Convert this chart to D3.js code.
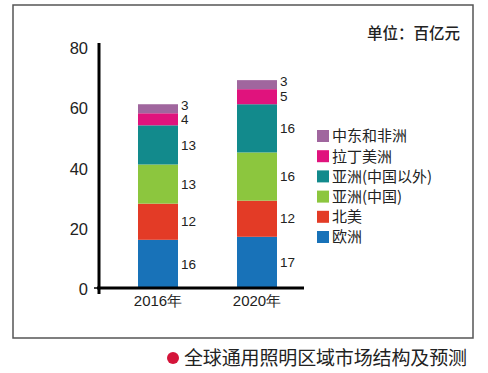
<!DOCTYPE html>
<html><head><meta charset="utf-8">
<script src="https://cdn.jsdelivr.net/npm/d3@7"></script>
<style>body{margin:0;background:#fff;}svg{display:block;}</style>
</head><body>
<svg id="c" width="488" height="373"></svg>
<script>
const years = ["2016年", "2020年"];
const regions = ["欧洲", "北美", "亚洲(中国)", "亚洲(中国以外)", "拉丁美洲", "中东和非洲"];
const europe = [16, 17];
const northAmerica = [12, 12];
const asiaChina = [13, 16];
const asiaOther = [13, 16];
const latinAmerica = [4, 5];
const meAfrica = [3, 3];
const yTicks = [0, 20, 40, 60, 80];
const colors = ["#1872b8", "#e33b26", "#8cc63e", "#128a8c", "#e0137d", "#a0669e"];
const unitText = "单位：百亿元";
const captionText = "全球通用照明区域市场结构及预测";

const seriesVals = [europe, northAmerica, asiaChina, asiaOther, latinAmerica, meAfrica];
const table = years.map((y, i) => {
  const o = {year: y};
  regions.forEach((r, k) => o[r] = seriesVals[k][i]);
  return o;
});
const stacked = d3.stack().keys(regions)(table);

const svg = d3.select("#c");
const font = "Liberation Sans, Arial, sans-serif";
const cjk = "'Noto Sans CJK SC', sans-serif";

// frame
svg.append("rect").attr("x", 13).attr("y", 5).attr("width", 460).attr("height", 333)
  .attr("fill", "none").attr("stroke", "#555").attr("stroke-width", 1.5);

const y = d3.scaleLinear().domain([0, 80]).range([288, 47]);
const x = d3.scaleBand().domain(years).range([88.5, 326.5]).paddingInner(0.596).paddingOuter(0.5);

// bars
const g = svg.append("g");
stacked.forEach((layer, k) => {
  g.selectAll(null).data(layer).enter().append("rect")
    .attr("x", d => x(d.data.year))
    .attr("y", d => y(d[1]))
    .attr("width", x.bandwidth())
    .attr("height", d => y(d[0]) - y(d[1]))
    .attr("fill", colors[k]);
  g.selectAll(null).data(layer).enter().append("text")
    .attr("x", d => x(d.data.year) + x.bandwidth() + 3)
    .attr("y", d => (y(d[0]) + y(d[1])) / 2)
    .attr("dy", d => (d[1] - d[0]) <= 3 ? "0.1em" : "0.35em")
    .attr("font-family", font).attr("font-size", 13.5).attr("fill", "#222")
    .text(d => d[1] - d[0]);
});

// y axis
const yAxis = svg.append("g").attr("transform", "translate(99,0)")
  .call(d3.axisLeft(y).tickValues(yTicks).tickSize(0).tickPadding(11));
yAxis.select(".domain").remove();
yAxis.selectAll("text").attr("font-family", font).attr("font-size", 16.5).attr("fill", "#222").attr("dy", "0.4em");
svg.append("line").attr("x1", 99).attr("x2", 99).attr("y1", y(80) - 4).attr("y2", 294)
  .attr("stroke", "#000").attr("stroke-width", 3);
svg.append("line").attr("x1", 94).attr("x2", 99).attr("y1", y(0)).attr("y2", y(0))
  .attr("stroke", "#000").attr("stroke-width", 1.5);

// x axis
const xAxis = svg.append("g").attr("transform", `translate(0,${y(0)})`)
  .call(d3.axisBottom(x).tickSize(0).tickPadding(7));
xAxis.select(".domain").remove();
xAxis.selectAll("text").attr("font-family", font).attr("font-size", 15).attr("fill", "#222")
  .attr("dy", "0.75em");
svg.append("line").attr("x1", 97).attr("x2", 304).attr("y1", y(0)).attr("y2", y(0))
  .attr("stroke", "#000").attr("stroke-width", 3);

// legend
const legendOrder = regions.slice().reverse();
const lg = svg.append("g");
legendOrder.forEach((r, i) => {
  const yy = 136 + i * 20.2;
  lg.append("rect").attr("x", 317).attr("y", yy - 6).attr("width", 12).attr("height", 12)
    .attr("fill", colors[regions.indexOf(r)]);
  lg.append("text").attr("x", 332).attr("y", yy).attr("dy", "0.36em")
    .attr("font-family", cjk).attr("font-size", 15).attr("fill", "#222").text(r);
});

// unit
svg.append("text").attr("x", 460).attr("y", 33).attr("dy", "0.36em").attr("text-anchor", "end")
  .attr("font-family", cjk).attr("font-size", 15.5).attr("font-weight", 500).attr("fill", "#222").text(unitText);

// caption
svg.append("circle").attr("cx", 173).attr("cy", 358).attr("r", 6).attr("fill", "#d4143a");
svg.append("text").attr("x", 184).attr("y", 358).attr("dy", "0.36em")
  .attr("font-family", cjk).attr("font-size", 19).attr("fill", "#222").attr("textLength", 283).text(captionText);
</script>
</body></html>
